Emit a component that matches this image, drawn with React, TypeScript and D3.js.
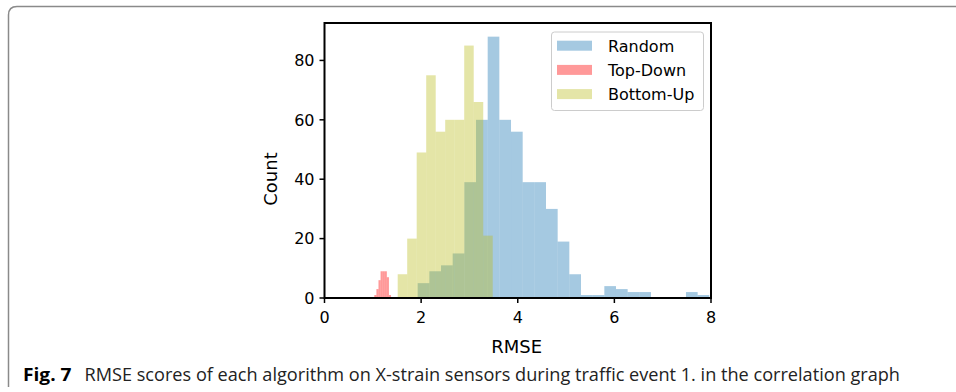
import React from "react";
import * as d3 from "d3";

// ---- data ----
const seriesNames = ["Random", "Top-Down", "Bottom-Up"];
const seriesColors = ["#1f77b4", "#ff0000", "#bcbd22"];
// histogram bin range [first edge, last edge] and counts per bin
const randomRange = [1.929, 7.965];
const randomCounts = [5, 9, 11, 15, 39, 60, 88, 60, 56, 39, 39, 30, 19, 8, 1, 1, 4, 3, 2, 2, 0, 0, 0, 2, 1];
const topDownRange = [1.031, 1.377];
const topDownCounts = [1, 3, 6, 9, 9, 9, 7, 1];
const bottomUpRange = [1.515, 3.482];
const bottomUpCounts = [8, 20, 49, 75, 56, 60, 60, 85, 66, 21];
const xTicks = [0, 2, 4, 6, 8];
const yTicks = [0, 20, 40, 60, 80];
const xLabel = "RMSE";
const yLabel = "Count";
const captionBold = "Fig. 7";
const captionText = "RMSE scores of each algorithm on X-strain sensors during traffic event 1. in the correlation graph";

type Bin = { x0: number; x1: number; n: number };
function makeBins(range: number[], counts: number[]): Bin[] {
  const w = (range[1] - range[0]) / counts.length;
  return counts.map((n, i) => ({ x0: range[0] + i * w, x1: range[0] + (i + 1) * w, n }));
}

export default function App() {
  const W = 956, H = 392;
  const x = d3.scaleLinear().domain([0, 8]).range([324.5, 711]);
  const y = d3.scaleLinear().domain([0, 92.6]).range([298, 23]);
  const series = [
    makeBins(randomRange, randomCounts),
    makeBins(topDownRange, topDownCounts),
    makeBins(bottomUpRange, bottomUpCounts),
  ];
  const font = "DejaVu Sans, sans-serif";
  const [x0, x1] = x.range();
  const [yb, yt] = y.range();
  return (
    <svg width={W} height={H} style={{ position: "absolute", left: 0, top: 0, background: "#fff" }}>
      <rect x={0} y={0} width={W} height={H} fill="#fff" />
      {/* figure border */}
      <path d={`M 8.5 387 L 8.5 15 Q 8.5 6.5 17 6.5 L ${W} 6.5`} fill="none" stroke="#8a8a8a" strokeWidth={1.5} />
      {/* bars */}
      {series.map((bins, si) => (
        <g key={si}>
          {bins.filter(b => b.n > 0).map((b, i) => (
            <rect key={i} x={x(b.x0)} y={y(b.n)} width={x(b.x1) - x(b.x0)} height={y(0) - y(b.n)}
              fill={seriesColors[si]} fillOpacity={0.4} />
          ))}
        </g>
      ))}
      {/* frame */}
      <rect x={x0} y={yt} width={x1 - x0} height={yb - yt} fill="none" stroke="#000" strokeWidth={2} />
      {/* x ticks */}
      {xTicks.map(t => (
        <g key={t}>
          <line x1={x(t)} x2={x(t)} y1={yb} y2={yb + 5} stroke="#000" strokeWidth={1.5} />
          <text x={x(t)} y={yb + 24.5} textAnchor="middle" fontFamily={font} fontSize={16} fill="#000">{t}</text>
        </g>
      ))}
      {/* y ticks */}
      {yTicks.map(t => (
        <g key={t}>
          <line x1={x0 - 5} x2={x0} y1={y(t)} y2={y(t)} stroke="#000" strokeWidth={1.5} />
          <text x={x0 - 10} y={y(t) + 5.8} textAnchor="end" fontFamily={font} fontSize={16} fill="#000">{t}</text>
        </g>
      ))}
      <text x={(x0 + x1) / 2 - 1} y={353} textAnchor="middle" fontFamily={font} fontSize={18} fill="#000">{xLabel}</text>
      <text transform={`translate(276.5,179) rotate(-90)`} textAnchor="middle" fontFamily={font} fontSize={18} fill="#000">{yLabel}</text>
      {/* legend */}
      <rect x={551.5} y={32} width={152} height={78.5} rx={3} fill="#fff" fillOpacity={0.8} stroke="#cccccc" strokeWidth={1} />
      {seriesNames.map((s, i) => (
        <g key={s}>
          <rect x={557} y={40.7 + i * 24.2} width={35} height={10} fill={seriesColors[i]} fillOpacity={0.4} />
          <text x={608} y={51.5 + i * 24.2} fontFamily={font} fontSize={16} fill="#000">{s}</text>
        </g>
      ))}
      {/* caption */}
      <text x={23} y={380.5} fontFamily="Open Sans, sans-serif" fontWeight="bold" fontSize={17.5} fill="#000"
        textLength={48.5} lengthAdjust="spacingAndGlyphs">{captionBold}</text>
      <text x={84.5} y={380.5} fontFamily="Open Sans, sans-serif" fontSize={17.5} fill="#222"
        textLength={815.5} lengthAdjust="spacingAndGlyphs">{captionText}</text>
    </svg>
  );
}
